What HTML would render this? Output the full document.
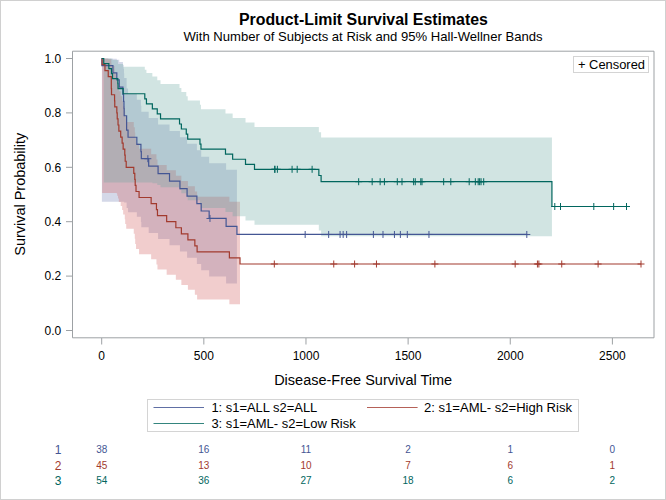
<!DOCTYPE html>
<html><head><meta charset="utf-8"><style>
html,body{margin:0;padding:0;background:#fff;}
svg{display:block;font-family:"Liberation Sans",sans-serif;}
</style></head><body>
<svg width="666" height="500" viewBox="0 0 666 500">
<rect x="0.5" y="0.5" width="665" height="499" fill="#fff" stroke="#d0d0d0" stroke-width="1"/>
<path d="M101.9,58.5 L112.94,58.5 L112.94,58.72 L116.82,58.72 L116.82,59.78 L119.27,59.78 L119.27,61.92 L122.95,61.92 L122.95,64.99 L123.56,64.99 L123.56,68.79 L123.97,68.79 L123.97,73.15 L124.17,73.15 L124.17,77.95 L126.62,77.95 L126.62,88.48 L128.05,88.48 L128.05,94.09 L136.84,94.09 L136.84,99.87 L140.92,99.87 L140.92,105.78 L141.33,105.78 L141.33,111.8 L148.68,111.8 L148.68,118.11 L158.08,118.11 L158.08,124.48 L169.52,124.48 L169.52,130.9 L179.94,130.9 L179.94,137.36 L187.09,137.36 L187.09,143.84 L196.89,143.84 L196.89,150.32 L201.18,150.32 L201.18,156.8 L209.15,156.8 L209.15,163.25 L226.11,163.25 L226.11,169.86 L236.93,169.86 L236.93,176.37 L236.93,176.37 L236.93,290.15 L236.93,290.15 L236.93,283.42 L226.11,283.42 L226.11,276.55 L209.15,276.55 L209.15,270.31 L201.18,270.31 L201.18,264.04 L196.89,264.04 L196.89,257.76 L187.09,257.76 L187.09,251.49 L179.94,251.49 L179.94,245.27 L169.52,245.27 L169.52,239.12 L158.08,239.12 L158.08,233.09 L148.68,233.09 L148.68,227.2 L141.33,227.2 L141.33,221.9 L140.92,221.9 L140.92,216.87 L136.84,216.87 L136.84,212.22 L128.05,212.22 L128.05,208.1 L126.62,208.1 L126.62,202.43 L124.17,202.43 L124.17,201.84 L123.97,201.84 L123.97,201.84 L123.56,201.84 L123.56,201.84 L122.95,201.84 L122.95,201.84 L119.27,201.84 L119.27,201.84 L116.82,201.84 L116.82,201.84 L112.94,201.84 L112.94,201.84 L101.9,201.84Z" fill="#6F7EB3" fill-opacity="0.3"/>
<path d="M102.11,58.5 L104.97,58.5 L104.97,58.62 L108.24,58.62 L108.24,59.33 L111.3,59.33 L111.3,63.17 L111.51,63.17 L111.51,66.1 L114.57,66.1 L114.57,69.54 L114.77,69.54 L114.77,73.37 L116.82,73.37 L116.82,77.51 L117.23,77.51 L117.23,81.9 L118.04,81.9 L118.04,86.49 L118.86,86.49 L118.86,91.25 L120.7,91.25 L120.7,96.13 L122.13,96.13 L122.13,101.13 L123.15,101.13 L123.15,106.22 L124.78,106.22 L124.78,111.38 L125.19,111.38 L125.19,116.6 L126.21,116.6 L126.21,121.88 L133.77,121.88 L133.77,127.2 L134.79,127.2 L134.79,132.55 L135.2,132.55 L135.2,137.93 L136.02,137.93 L136.02,143.33 L139.08,143.33 L139.08,148.74 L151.14,148.74 L151.14,154.15 L156.45,154.15 L156.45,159.57 L157.47,159.57 L157.47,164.97 L166.66,164.97 L166.66,170.36 L175.85,170.36 L175.85,175.73 L181.37,175.73 L181.37,181.06 L187.91,181.06 L187.91,186.34 L194.85,186.34 L194.85,191.56 L197.1,191.56 L197.1,196.69 L229.38,196.69 L229.38,201.72 L240,201.72 L240,206.6 L240,206.6 L240,308.7 L240,308.7 L240,304.21 L229.38,304.21 L229.38,299.55 L197.1,299.55 L197.1,294.76 L194.85,294.76 L194.85,289.86 L187.91,289.86 L187.91,284.88 L181.37,284.88 L181.37,279.84 L175.85,279.84 L175.85,274.74 L166.66,274.74 L166.66,269.62 L157.47,269.62 L157.47,264.47 L156.45,264.47 L156.45,259.31 L151.14,259.31 L151.14,254.15 L139.08,254.15 L139.08,249 L136.02,249 L136.02,243.88 L135.2,243.88 L135.2,238.79 L134.79,238.79 L134.79,233.75 L133.77,233.75 L133.77,228.78 L126.21,228.78 L126.21,223.9 L125.19,223.9 L125.19,219.13 L124.78,219.13 L124.78,214.51 L123.15,214.51 L123.15,210.07 L122.13,210.07 L122.13,205.88 L120.7,205.88 L120.7,202.01 L118.86,202.01 L118.86,198.56 L118.04,198.56 L118.04,195.71 L117.23,195.71 L117.23,193.7 L116.82,193.7 L116.82,192.93 L114.77,192.93 L114.77,192.93 L114.57,192.93 L114.57,192.93 L111.51,192.93 L111.51,192.93 L111.3,192.93 L111.3,192.93 L108.24,192.93 L108.24,192.93 L104.97,192.93 L104.97,192.93 L102.11,192.93Z" fill="#D05B5B" fill-opacity="0.3"/>
<path d="M103.74,58.5 L108.85,58.5 L108.85,58.57 L111.51,58.57 L111.51,59.02 L112.53,59.02 L112.53,60.1 L117.84,60.1 L117.84,61.79 L118.04,61.79 L118.04,64.02 L123.15,64.02 L123.15,66.68 L144.8,66.68 L144.8,69.68 L146.44,69.68 L146.44,72.97 L152.36,72.97 L152.36,76.48 L157.26,76.48 L157.26,80.17 L160.53,80.17 L160.53,84.02 L179.53,84.02 L179.53,87.99 L181.37,87.99 L181.37,92.07 L186.27,92.07 L186.27,96.24 L187.7,96.24 L187.7,100.48 L199.96,100.48 L199.96,104.78 L200.98,104.78 L200.98,109.14 L225.49,109.14 L225.49,113.54 L232.64,113.54 L232.64,117.98 L245.51,117.98 L245.51,122.46 L254.5,122.46 L254.5,126.96 L318.85,126.96 L318.85,132.22 L321.1,132.22 L321.1,137.49 L551.93,137.49 L551.93,137.49 L551.93,137.49 L551.93,287.45 L551.93,287.45 L551.93,236.35 L321.1,236.35 L321.1,230.51 L318.85,230.51 L318.85,224.7 L254.5,224.7 L254.5,220.44 L245.51,220.44 L245.51,216.23 L232.64,216.23 L232.64,212.1 L225.49,212.1 L225.49,208.05 L200.98,208.05 L200.98,204.1 L199.96,204.1 L199.96,200.29 L187.7,200.29 L187.7,196.65 L186.27,196.65 L186.27,193.21 L181.37,193.21 L181.37,190.04 L179.53,190.04 L179.53,187.23 L160.53,187.23 L160.53,184.89 L157.26,184.89 L157.26,183.2 L152.36,183.2 L152.36,182.44 L146.44,182.44 L146.44,182.44 L144.8,182.44 L144.8,182.44 L123.15,182.44 L123.15,182.44 L118.04,182.44 L118.04,182.44 L117.84,182.44 L117.84,182.44 L112.53,182.44 L112.53,182.44 L111.51,182.44 L111.51,182.44 L108.85,182.44 L108.85,182.44 L103.74,182.44Z" fill="#66A5A0" fill-opacity="0.3"/>
<path d="M101.7,58.5 L101.9,58.5 L101.9,65.66 L112.94,65.66 L112.94,72.82 L116.82,72.82 L116.82,79.97 L119.27,79.97 L119.27,87.13 L122.95,87.13 L122.95,94.29 L123.56,94.29 L123.56,101.45 L123.97,101.45 L123.97,108.61 L124.17,108.61 L124.17,115.76 L126.62,115.76 L126.62,130.08 L128.05,130.08 L128.05,137.24 L136.84,137.24 L136.84,144.39 L140.92,144.39 L140.92,151.55 L141.33,151.55 L141.33,158.71 L148.68,158.71 L148.68,166.18 L158.08,166.18 L158.08,173.65 L169.52,173.65 L169.52,181.12 L179.94,181.12 L179.94,188.59 L187.09,188.59 L187.09,196.06 L196.89,196.06 L196.89,203.53 L201.18,203.53 L201.18,210.99 L209.15,210.99 L209.15,218.46 L226.11,218.46 L226.11,226.47 L236.93,226.47 L236.93,234.47 L526.81,234.47" fill="none" stroke="#445694" stroke-width="1.2" stroke-linejoin="miter"/>
<path d="M101.7,58.5 L102.11,58.5 L102.11,64.54 L104.97,64.54 L104.97,70.59 L108.24,70.59 L108.24,76.63 L111.3,76.63 L111.3,88.72 L111.51,88.72 L111.51,94.77 L114.57,94.77 L114.57,100.81 L114.77,100.81 L114.77,106.86 L116.82,106.86 L116.82,112.9 L117.23,112.9 L117.23,118.94 L118.04,118.94 L118.04,124.99 L118.86,124.99 L118.86,131.03 L120.7,131.03 L120.7,137.08 L122.13,137.08 L122.13,143.12 L123.15,143.12 L123.15,149.17 L124.78,149.17 L124.78,155.21 L125.19,155.21 L125.19,161.26 L126.21,161.26 L126.21,167.3 L133.77,167.3 L133.77,173.34 L134.79,173.34 L134.79,179.39 L135.2,179.39 L135.2,185.43 L136.02,185.43 L136.02,191.48 L139.08,191.48 L139.08,197.52 L151.14,197.52 L151.14,203.57 L156.45,203.57 L156.45,209.61 L157.47,209.61 L157.47,215.66 L166.66,215.66 L166.66,221.7 L175.85,221.7 L175.85,227.74 L181.37,227.74 L181.37,233.79 L187.91,233.79 L187.91,239.83 L194.85,239.83 L194.85,245.88 L197.1,245.88 L197.1,251.92 L229.38,251.92 L229.38,257.97 L240,257.97 L240,264.01 L641,264.01" fill="none" stroke="#A23A2E" stroke-width="1.2" stroke-linejoin="miter"/>
<path d="M101.7,58.5 L103.74,58.5 L103.74,63.54 L108.85,63.54 L108.85,68.57 L111.51,68.57 L111.51,73.61 L112.53,73.61 L112.53,78.65 L117.84,78.65 L117.84,83.69 L118.04,83.69 L118.04,88.72 L123.15,88.72 L123.15,93.76 L144.8,93.76 L144.8,98.8 L146.44,98.8 L146.44,103.83 L152.36,103.83 L152.36,108.87 L157.26,108.87 L157.26,113.91 L160.53,113.91 L160.53,118.94 L179.53,118.94 L179.53,123.98 L181.37,123.98 L181.37,129.02 L186.27,129.02 L186.27,134.06 L187.7,134.06 L187.7,139.09 L199.96,139.09 L199.96,144.13 L200.98,144.13 L200.98,149.17 L225.49,149.17 L225.49,154.2 L232.64,154.2 L232.64,159.24 L245.51,159.24 L245.51,164.28 L254.5,164.28 L254.5,169.31 L318.85,169.31 L318.85,175.51 L321.1,175.51 L321.1,181.71 L551.93,181.71 L551.93,206.51 L626.5,206.51" fill="none" stroke="#01665E" stroke-width="1.2" stroke-linejoin="miter"/>
<path d="M147.87,155.21V162.21M144.37,158.71H151.37M209.97,214.96V221.96M206.47,218.46H213.47M305.16,230.97V237.97M301.66,234.47H308.66M328.66,230.97V237.97M325.16,234.47H332.16M340.09,230.97V237.97M336.59,234.47H343.59M343.16,230.97V237.97M339.66,234.47H346.66M346.63,230.97V237.97M343.13,234.47H350.13M373.39,230.97V237.97M369.89,234.47H376.89M382.99,230.97V237.97M379.49,234.47H386.49M394.43,230.97V237.97M390.93,234.47H397.93M400.36,230.97V237.97M396.86,234.47H403.86M407.3,230.97V237.97M403.8,234.47H410.8M428.96,230.97V237.97M425.46,234.47H432.46M526.81,230.97V237.97M523.31,234.47H530.31" stroke="#445694" stroke-width="1" fill="none"/>
<path d="M274.32,260.51V267.51M270.82,264.01H277.82M333.76,260.51V267.51M330.26,264.01H337.26M354.6,260.51V267.51M351.1,264.01H358.1M376.46,260.51V267.51M372.96,264.01H379.96M434.88,260.51V267.51M431.38,264.01H438.38M515.16,260.51V267.51M511.66,264.01H518.66M537.43,260.51V267.51M533.93,264.01H540.93M538.86,260.51V267.51M535.36,264.01H542.36M561.74,260.51V267.51M558.24,264.01H565.24M598.1,260.51V267.51M594.6,264.01H601.6M641,260.51V267.51M637.5,264.01H644.5" stroke="#A23A2E" stroke-width="1" fill="none"/>
<path d="M274.73,165.81V172.81M271.23,169.31H278.23M274.93,165.81V172.81M271.43,169.31H278.43M277.38,165.81V172.81M273.88,169.31H280.88M292.09,165.81V172.81M288.59,169.31H295.59M297.2,165.81V172.81M293.7,169.31H300.7M312.11,165.81V172.81M308.61,169.31H315.61M358.68,178.21V185.21M355.18,181.71H362.18M372.17,178.21V185.21M368.67,181.71H375.67M380.13,178.21V185.21M376.63,181.71H383.63M384.42,178.21V185.21M380.92,181.71H387.92M397.29,178.21V185.21M393.79,181.71H400.79M401.99,178.21V185.21M398.49,181.71H405.49M413.64,178.21V185.21M410.14,181.71H417.14M415.27,178.21V185.21M411.77,181.71H418.77M420.79,178.21V185.21M417.29,181.71H424.29M422.01,178.21V185.21M418.51,181.71H425.51M443.66,178.21V185.21M440.16,181.71H447.16M450.81,178.21V185.21M447.31,181.71H454.31M469.2,178.21V185.21M465.7,181.71H472.7M475.33,178.21V185.21M471.83,181.71H478.83M478.19,178.21V185.21M474.69,181.71H481.69M479.62,178.21V185.21M476.12,181.71H483.12M481.05,178.21V185.21M477.55,181.71H484.55M483.7,178.21V185.21M480.2,181.71H487.2M554.79,203.01V210.01M551.29,206.51H558.29M560.51,203.01V210.01M557.01,206.51H564.01M593.81,203.01V210.01M590.31,206.51H597.31M613.63,203.01V210.01M610.13,206.51H617.13M626.5,203.01V210.01M623,206.51H630" stroke="#01665E" stroke-width="1" fill="none"/>
<path d="M72.5,51.2H654V337.8H72.5Z" fill="none" stroke="#9da1a4" stroke-width="1"/>
<path d="M66,330.5H72" stroke="#9da1a4" stroke-width="1"/>
<text x="61.2" y="334.8" text-anchor="end" font-size="12">0.0</text>
<path d="M66,276.1H72" stroke="#9da1a4" stroke-width="1"/>
<text x="61.2" y="280.4" text-anchor="end" font-size="12">0.2</text>
<path d="M66,221.7H72" stroke="#9da1a4" stroke-width="1"/>
<text x="61.2" y="226" text-anchor="end" font-size="12">0.4</text>
<path d="M66,167.3H72" stroke="#9da1a4" stroke-width="1"/>
<text x="61.2" y="171.6" text-anchor="end" font-size="12">0.6</text>
<path d="M66,112.9H72" stroke="#9da1a4" stroke-width="1"/>
<text x="61.2" y="117.2" text-anchor="end" font-size="12">0.8</text>
<path d="M66,58.5H72" stroke="#9da1a4" stroke-width="1"/>
<text x="61.2" y="62.8" text-anchor="end" font-size="12">1.0</text>
<path d="M101.7,338V344.5" stroke="#9da1a4" stroke-width="1"/>
<text x="101.7" y="360.3" text-anchor="middle" font-size="12">0</text>
<path d="M203.84,338V344.5" stroke="#9da1a4" stroke-width="1"/>
<text x="203.84" y="360.3" text-anchor="middle" font-size="12">500</text>
<path d="M305.98,338V344.5" stroke="#9da1a4" stroke-width="1"/>
<text x="305.98" y="360.3" text-anchor="middle" font-size="12">1000</text>
<path d="M408.12,338V344.5" stroke="#9da1a4" stroke-width="1"/>
<text x="408.12" y="360.3" text-anchor="middle" font-size="12">1500</text>
<path d="M510.26,338V344.5" stroke="#9da1a4" stroke-width="1"/>
<text x="510.26" y="360.3" text-anchor="middle" font-size="12">2000</text>
<path d="M612.4,338V344.5" stroke="#9da1a4" stroke-width="1"/>
<text x="612.4" y="360.3" text-anchor="middle" font-size="12">2500</text>
<text x="363.4" y="25.4" text-anchor="middle" font-size="15.8" font-weight="bold" textLength="249" lengthAdjust="spacingAndGlyphs">Product-Limit Survival Estimates</text>
<text x="363" y="40.9" text-anchor="middle" font-size="12.4" textLength="359" lengthAdjust="spacingAndGlyphs">With Number of Subjects at Risk and 95% Hall-Wellner Bands</text>
<text x="363.15" y="385.1" text-anchor="middle" font-size="14" textLength="178" lengthAdjust="spacingAndGlyphs">Disease-Free Survival Time</text>
<text transform="translate(24.7,194.25) rotate(-90)" x="0" y="0" text-anchor="middle" font-size="14" textLength="123" lengthAdjust="spacingAndGlyphs">Survival Probability</text>
<rect x="573.5" y="56.5" width="75" height="16" fill="#fff" stroke="#d4d4d4" stroke-width="1"/>
<text x="578" y="69.3" font-size="12" textLength="67" lengthAdjust="spacingAndGlyphs">+ Censored</text>
<rect x="147.5" y="399.5" width="431" height="32" fill="#fff" stroke="#d4d4d4" stroke-width="1"/>
<path d="M153.5,407.5H204" stroke="#445694" stroke-opacity="0.85" stroke-width="1"/>
<path d="M153.5,423.5H204" stroke="#01665E" stroke-opacity="0.8" stroke-width="1"/>
<path d="M367,407.5H417.6" stroke="#A23A2E" stroke-opacity="0.8" stroke-width="1"/>
<text x="211.4" y="412.3" font-size="12" textLength="105.9" lengthAdjust="spacingAndGlyphs">1: s1=ALL s2=ALL</text>
<text x="211.4" y="427.8" font-size="12" textLength="144.3" lengthAdjust="spacingAndGlyphs">3: s1=AML- s2=Low Risk</text>
<text x="424" y="412.3" font-size="12" textLength="148" lengthAdjust="spacingAndGlyphs">2: s1=AML- s2=High Risk</text>
<text x="58" y="454.2" text-anchor="middle" font-size="12" fill="#445694">1</text>
<text x="101.7" y="453.2" text-anchor="middle" font-size="10" fill="#445694">38</text>
<text x="203.84" y="453.2" text-anchor="middle" font-size="10" fill="#445694">16</text>
<text x="305.98" y="453.2" text-anchor="middle" font-size="10" fill="#445694">11</text>
<text x="408.12" y="453.2" text-anchor="middle" font-size="10" fill="#445694">2</text>
<text x="510.26" y="453.2" text-anchor="middle" font-size="10" fill="#445694">1</text>
<text x="612.4" y="453.2" text-anchor="middle" font-size="10" fill="#445694">0</text>
<text x="58" y="469.7" text-anchor="middle" font-size="12" fill="#A23A2E">2</text>
<text x="101.7" y="468.7" text-anchor="middle" font-size="10" fill="#A23A2E">45</text>
<text x="203.84" y="468.7" text-anchor="middle" font-size="10" fill="#A23A2E">13</text>
<text x="305.98" y="468.7" text-anchor="middle" font-size="10" fill="#A23A2E">10</text>
<text x="408.12" y="468.7" text-anchor="middle" font-size="10" fill="#A23A2E">7</text>
<text x="510.26" y="468.7" text-anchor="middle" font-size="10" fill="#A23A2E">6</text>
<text x="612.4" y="468.7" text-anchor="middle" font-size="10" fill="#A23A2E">1</text>
<text x="58" y="484.7" text-anchor="middle" font-size="12" fill="#01665E">3</text>
<text x="101.7" y="484.0" text-anchor="middle" font-size="10" fill="#01665E">54</text>
<text x="203.84" y="484.0" text-anchor="middle" font-size="10" fill="#01665E">36</text>
<text x="305.98" y="484.0" text-anchor="middle" font-size="10" fill="#01665E">27</text>
<text x="408.12" y="484.0" text-anchor="middle" font-size="10" fill="#01665E">18</text>
<text x="510.26" y="484.0" text-anchor="middle" font-size="10" fill="#01665E">6</text>
<text x="612.4" y="484.0" text-anchor="middle" font-size="10" fill="#01665E">2</text>
</svg>
</body></html>
